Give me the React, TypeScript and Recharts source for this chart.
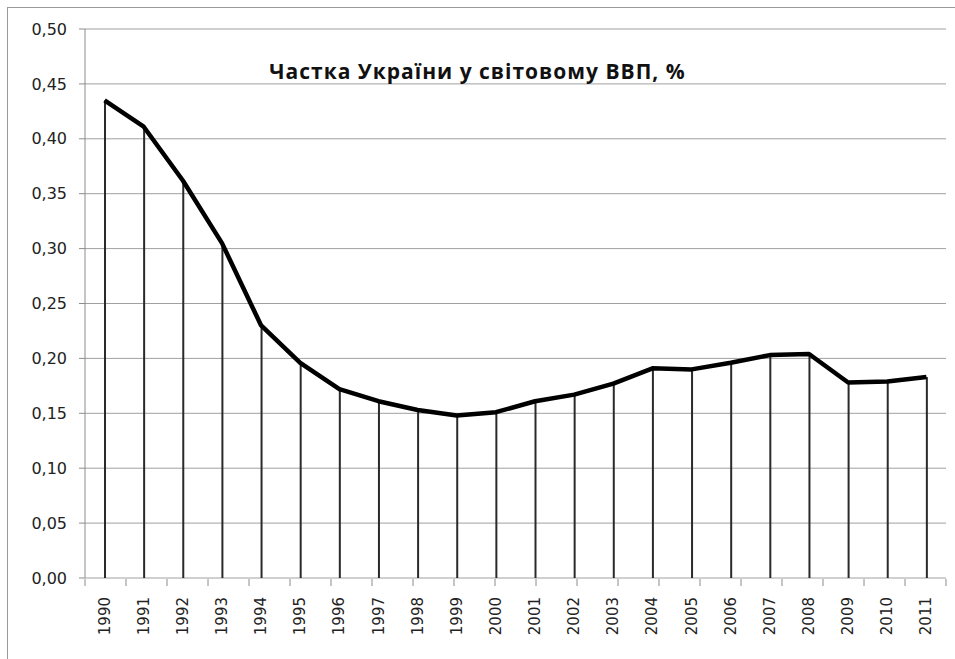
import React from "react";
import {
  ComposedChart,
  Line,
  Bar,
  XAxis,
  YAxis,
  CartesianGrid,
} from "recharts";

const years = [
  "1990", "1991", "1992", "1993", "1994", "1995", "1996", "1997", "1998", "1999", "2000",
  "2001", "2002", "2003", "2004", "2005", "2006", "2007", "2008", "2009", "2010", "2011",
];
const shares = [
  0.435, 0.411, 0.362, 0.305, 0.23, 0.196, 0.172, 0.161, 0.153, 0.148, 0.151,
  0.161, 0.167, 0.177, 0.191, 0.19, 0.196, 0.203, 0.204, 0.178, 0.179, 0.183,
];
const yTicks = [0, 0.05, 0.1, 0.15, 0.2, 0.25, 0.3, 0.35, 0.4, 0.45, 0.5];
const title = "Частка України у світовому ВВП, %";

const data = years.map((year, i) => ({ year, share: shares[i] }));
// category boundaries, for the Excel-style tick marks between years
const edgeTicks = [...years.map((_, i) => i), years.length];

const axisGray = "#8c8c8c";
const labelFont = "'DejaVu Sans', Verdana, sans-serif";

function YearTick(props: any) {
  const { x, y, payload } = props;
  const ty = y + 19;
  return (
    <text
      x={x}
      y={ty}
      transform={`rotate(-90, ${x}, ${ty})`}
      textAnchor="end"
      dominantBaseline="central"
      fontSize={15}
      fontFamily={labelFont}
      fill="#222"
    >
      {payload.value}
    </text>
  );
}

export default function App() {
  return (
    <div
      style={{
        position: "fixed",
        top: 0,
        left: 0,
        width: 955,
        height: 659,
        overflow: "hidden",
        background: "#fff",
      }}
    >
      <div
        style={{
          position: "absolute",
          top: 7,
          left: 7,
          width: 948,
          height: 652,
          borderTop: "1px solid #9a9a9a",
          borderLeft: "1px solid #9a9a9a",
        }}
      />
      <div style={{ position: "absolute", top: 0, left: 0 }}>
        <ComposedChart
          width={955}
          height={659}
          data={data}
          margin={{ top: 29, right: 9, bottom: 0, left: 0 }}
        >
          <CartesianGrid vertical={false} stroke="#a0a0a0" />
          <XAxis
            dataKey="year"
            interval={0}
            tickLine={false}
            axisLine={false}
            tickSize={0}
            tickMargin={0}
            height={1}
            tick={<YearTick />}
          />
          <XAxis
            xAxisId="edges"
            type="number"
            domain={[0, years.length]}
            ticks={edgeTicks}
            tickFormatter={() => ""}
            tickSize={7}
            height={80}
            axisLine={false}
            tickLine={{ stroke: axisGray }}
            allowDataOverflow
          />
          <YAxis
            domain={[0, 0.5]}
            ticks={yTicks}
            width={85}
            tickSize={6}
            tickMargin={12}
            stroke={axisGray}
            tick={{ fontSize: 16, fontFamily: labelFont, fill: "#222" }}
            tickFormatter={(v: number) => v.toFixed(2).replace(".", ",")}
          />
          <Bar dataKey="share" barSize={2} fill="#2a2a2a" isAnimationActive={false} />
          <Line
            dataKey="share"
            type="linear"
            stroke="#000"
            strokeWidth={4.5}
            strokeLinejoin="round"
            dot={false}
            activeDot={false}
            isAnimationActive={false}
          />
        </ComposedChart>
      </div>
      <div
        style={{
          position: "absolute",
          top: 61,
          left: 0,
          width: 955,
          textAlign: "center",
          fontFamily: "'Open Sans', sans-serif",
          fontWeight: 700,
          fontSize: 21,
          letterSpacing: 1,
          lineHeight: "20px",
          color: "#111",
        }}
      >
        {title}
      </div>
    </div>
  );
}
